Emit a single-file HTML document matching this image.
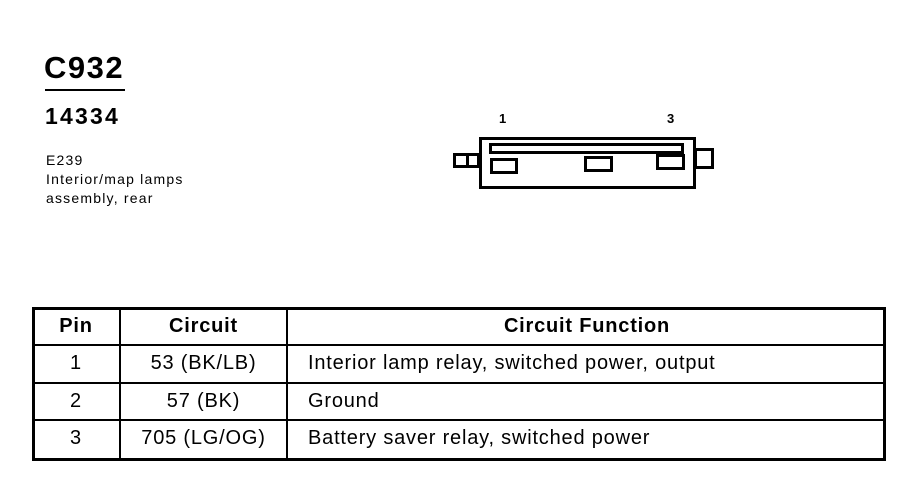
<!DOCTYPE html>
<html><head><style>
body{margin:0;width:918px;height:480px;background:#fff;position:relative;font-family:"Liberation Sans",Arial,sans-serif;color:#000;overflow:hidden}
.a{position:absolute;white-space:nowrap}
.b{position:absolute;background:#000}
.o{position:absolute;border:2px solid #000;box-sizing:border-box}
.t{font-size:20px;letter-spacing:0.8px}
.h{font-size:20px;font-weight:bold;letter-spacing:0.8px}
</style></head><body>
<div class="a" style="left:44px;top:50px;font-size:31px;font-weight:bold;letter-spacing:1.5px">C932</div>
<div class="b" style="left:45px;top:89px;width:80px;height:2px"></div>
<div class="a" style="left:45px;top:103px;font-size:23px;font-weight:bold;letter-spacing:2.2px">14334</div>
<div class="a" style="left:46px;top:151px;font-size:14px;line-height:19px;letter-spacing:1.2px">E239<br>Interior/map lamps<br>assembly, rear</div>
<div class="a" style="left:499px;top:111px;font-size:13px;font-weight:bold">1</div>
<div class="a" style="left:667px;top:111px;font-size:13px;font-weight:bold">3</div>
<div class="o" style="left:479px;top:137px;width:217px;height:52px;border-width:3px"></div>
<div class="o" style="left:489px;top:143px;width:195px;height:11px;border-width:3px"></div>
<div class="o" style="left:453px;top:153px;width:27px;height:15px;border-width:3px"></div>
<div class="b" style="left:466px;top:153px;width:3px;height:15px"></div>
<div class="o" style="left:694px;top:148px;width:20px;height:21px;border-width:3px"></div>
<div class="o" style="left:490px;top:158px;width:28px;height:16px;border-width:3px"></div>
<div class="o" style="left:584px;top:156px;width:29px;height:16px;border-width:3px"></div>
<div class="o" style="left:656px;top:154px;width:29px;height:16px;border-width:3px"></div>
<div class="o" style="left:32px;top:307px;width:854px;height:154px;border-width:3px"></div>
<div class="b" style="left:119px;top:307px;width:2px;height:154px"></div>
<div class="b" style="left:286px;top:307px;width:2px;height:154px"></div>
<div class="b" style="left:32px;top:344px;width:854px;height:2px"></div>
<div class="b" style="left:32px;top:382px;width:854px;height:2px"></div>
<div class="b" style="left:32px;top:419px;width:854px;height:2px"></div>
<div class="a h" style="left:32px;width:88px;top:315px;text-align:center">Pin</div>
<div class="a h" style="left:120px;width:167px;top:315px;text-align:center">Circuit</div>
<div class="a h" style="left:288px;width:598px;top:315px;text-align:center">Circuit Function</div>
<div class="a t" style="left:32px;width:88px;top:352px;text-align:center">1</div>
<div class="a t" style="left:120px;width:167px;top:352px;text-align:center">53 (BK/LB)</div>
<div class="a t" style="left:308px;top:352px">Interior lamp relay, switched power, output</div>
<div class="a t" style="left:32px;width:88px;top:390px;text-align:center">2</div>
<div class="a t" style="left:120px;width:167px;top:390px;text-align:center">57 (BK)</div>
<div class="a t" style="left:308px;top:390px">Ground</div>
<div class="a t" style="left:32px;width:88px;top:427px;text-align:center">3</div>
<div class="a t" style="left:120px;width:167px;top:427px;text-align:center">705 (LG/OG)</div>
<div class="a t" style="left:308px;top:427px">Battery saver relay, switched power</div>
</body></html>
